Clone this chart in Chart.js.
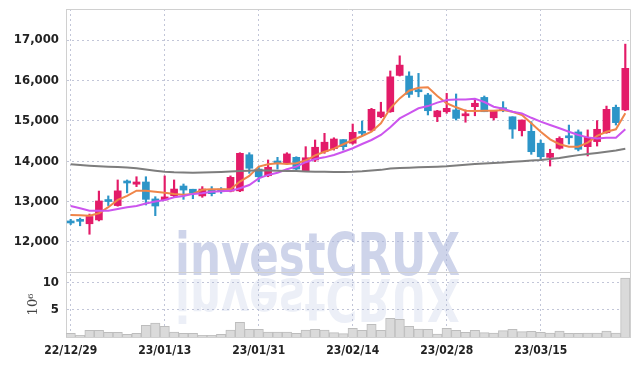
<!DOCTYPE html>
<html>
<head>
<meta charset="utf-8">
<script src="https://cdn.jsdelivr.net/npm/chart.js@4"></script>
<style>
  html, body { margin: 0; padding: 0; background: #fff; }
  #wrap { width: 639px; height: 366px; }
</style>
</head>
<body>
<div id="wrap"><canvas id="chart"></canvas></div>
<script>
// daily candles, 22/12/29 .. 23/03/28
const dates = [
  '22/12/29', '23/01/02', '23/01/03', '23/01/04', '23/01/05', '23/01/06', '23/01/09', '23/01/10', '23/01/11', '23/01/12',
  '23/01/13', '23/01/16', '23/01/17', '23/01/18', '23/01/19', '23/01/20', '23/01/25', '23/01/26', '23/01/27', '23/01/30',
  '23/01/31', '23/02/01', '23/02/02', '23/02/03', '23/02/06', '23/02/07', '23/02/08', '23/02/09', '23/02/10', '23/02/13',
  '23/02/14', '23/02/15', '23/02/16', '23/02/17', '23/02/20', '23/02/21', '23/02/22', '23/02/23', '23/02/24', '23/02/27',
  '23/02/28', '23/03/02', '23/03/03', '23/03/06', '23/03/07', '23/03/08', '23/03/09', '23/03/10', '23/03/13', '23/03/14',
  '23/03/15', '23/03/16', '23/03/17', '23/03/20', '23/03/21', '23/03/22', '23/03/23', '23/03/24', '23/03/27', '23/03/28'
];

const opens = [
  12520, 12540, 12450, 12545, 13040, 12900, 13490, 13430, 13485, 13065,
  13040, 13145, 13385, 13305, 13140, 13285, 13310, 13255, 13265, 14160,
  13805, 13640, 14005, 13950, 14095, 13765, 14030, 14235, 14310, 14535,
  14445, 14730, 14765, 15100, 15225, 16125, 16110, 15765, 15640, 15100,
  15225, 15270, 15125, 15350, 15580, 15075, 15325, 15100, 14755, 14740,
  14445, 14095, 14320, 14625, 14725, 14360, 14485, 14705, 15335, 15270
];
const highs = [
  12560, 12590, 12690, 13260, 13140, 13535, 13535, 13615, 13615, 13120,
  13635, 13535, 13435, 13305, 13370, 13370, 13345, 13635, 14210, 14210,
  13850, 14030, 14095, 14210, 14110, 14360, 14525, 14690, 14580, 14535,
  14920, 14995, 15310, 15460, 16235, 16610, 16215, 16175, 15680, 15260,
  15680, 15665, 15270, 15555, 15615, 15245, 15475, 15100, 15020, 14980,
  14525, 14295, 14605, 14895, 14775, 14775, 15005, 15365, 15390, 16900
];
const lows = [
  12430, 12400, 12190, 12520, 12900, 12885, 13215, 13370, 12915, 12650,
  13040, 13120, 13055, 13070, 13105, 13140, 13205, 13240, 13245, 13700,
  13490, 13615, 13805, 13925, 13785, 13740, 13990, 14195, 14275, 14275,
  14420, 14630, 14750, 15075, 15210, 16110, 15580, 15595, 15145, 14980,
  15185, 15020, 14965, 15125, 15225, 15020, 15225, 14565, 14625, 14170,
  14015, 13880, 14300, 14425, 14255, 14130, 14375, 14690, 14895, 15250
];
const closes = [
  12470, 12510, 12630, 13015, 13000, 13265, 13460, 13485, 13055, 12890,
  13115, 13310, 13285, 13205, 13310, 13195, 13255, 13600, 14195, 13825,
  13615, 13850, 13950, 14180, 13805, 14085, 14345, 14470, 14550, 14360,
  14715, 14690, 15285, 15220, 16090, 16380, 15655, 15720, 15250, 15245,
  15310, 15060, 15170, 15435, 15225, 15245, 15270, 14795, 15020, 14235,
  14110, 14195, 14565, 14580, 14295, 14590, 14790, 15285, 14955, 16300
];

// volume in millions of shares
const volumes = [
  0.68, 0.30, 1.24, 1.24, 0.87, 0.87, 0.49, 0.68, 2.16, 2.59,
  1.98, 0.93, 0.68, 0.68, 0.30, 0.30, 0.49, 1.30, 2.72, 1.42,
  1.42, 0.93, 0.93, 0.93, 0.68, 1.30, 1.42, 1.30, 0.80, 0.62,
  1.60, 1.24, 2.35, 1.24, 3.46, 3.27, 1.98, 1.48, 1.42, 0.56,
  1.60, 1.24, 0.87, 1.24, 0.80, 0.74, 1.17, 1.42, 0.99, 1.05,
  0.87, 0.74, 1.10, 0.68, 0.68, 0.74, 0.74, 1.10, 0.74, 10.9
];

// moving averages
const maShort = [
  12670, 12660, 12650, 12710, 12860, 13040, 13140, 13270, 13270, 13245,
  13220, 13190, 13170, 13190, 13290, 13305, 13305, 13305, 13495, 13635,
  13865, 13925, 13950, 13930, 13950, 14015, 14145, 14235, 14310, 14420,
  14525, 14625, 14730, 14940, 15310, 15555, 15745, 15820, 15830, 15615,
  15435, 15335, 15250, 15245, 15250, 15250, 15270, 15225, 15145, 14940,
  14730, 14540, 14420, 14360, 14360, 14460, 14625, 14730, 14790, 15185
];
const maMid = [
  12890, 12835, 12775, 12770, 12775, 12815, 12860, 12890, 12950, 13000,
  13040, 13105, 13140, 13190, 13205, 13240, 13255, 13265, 13330, 13410,
  13575, 13660, 13715, 13800, 13865, 13975, 14055, 14095, 14155, 14235,
  14320, 14425, 14525, 14650, 14840, 15060, 15185, 15310, 15365, 15450,
  15515, 15530, 15530, 15545, 15465, 15350, 15300, 15225, 15185, 15075,
  14980, 14895, 14815, 14730, 14650, 14590, 14565, 14580, 14580, 14790
];
const maLong = [
  13925, 13905, 13890, 13875, 13865, 13855, 13845, 13825, 13795, 13765,
  13740, 13725, 13720, 13715, 13720, 13725, 13735, 13745, 13755, 13765,
  13775, 13770, 13765, 13760, 13755, 13745, 13740, 13738, 13735, 13733,
  13738, 13750, 13768, 13785, 13820, 13830, 13840, 13850, 13857, 13865,
  13877, 13895, 13910, 13930, 13945, 13955, 13970, 13985, 14000, 14015,
  14030, 14055, 14080, 14115, 14150, 14180, 14205, 14235, 14265, 14310
];

const priceTicks = [12000, 13000, 14000, 15000, 16000, 17000];
const volTicks = [5, 10];

const upColor = '#e31b68';
const downColor = '#2d95c8';
const gridColor = '#c2c6d8';
const frameColor = '#d0d0d0';
const fontFamily = '"Liberation Sans Narrow", "DejaVu Sans Condensed", sans-serif';
const xFont = { family: fontFamily, size: 12, weight: 'bold' };
const yFont = { family: fontFamily, size: 13, weight: 'bold' };

const candleColors = opens.map((o, i) => closes[i] >= o ? upColor : downColor);

// frame lines + panel separator
const framePlugin = {
  id: 'frame',
  afterDraw(chart) {
    const { ctx, chartArea } = chart;
    const vol = chart.scales.vol;
    ctx.save();
    ctx.strokeStyle = frameColor;
    ctx.lineWidth = 1;
    ctx.beginPath();
    ctx.moveTo(chartArea.left, chartArea.top + 0.5);
    ctx.lineTo(chartArea.right + 0.5, chartArea.top + 0.5);
    ctx.lineTo(chartArea.right + 0.5, chartArea.bottom);
    ctx.moveTo(chartArea.left, Math.round(vol.top) + 0.5);
    ctx.lineTo(chartArea.right, Math.round(vol.top) + 0.5);
    ctx.stroke();
    ctx.restore();
  }
};

// faint "investCRUX" watermark with its reflection
const watermarkPlugin = {
  id: 'watermark',
  beforeDatasetsDraw(chart) {
    const { ctx } = chart;
    const text = 'investCRUX';
    ctx.save();
    ctx.font = 'bold 58px "DejaVu Sans", sans-serif';
    ctx.textBaseline = 'alphabetic';
    const sx = 285 / ctx.measureText(text).width;
    ctx.save();
    ctx.translate(175, 275);
    ctx.scale(sx, 1);
    ctx.fillStyle = 'rgba(165, 176, 216, 0.55)';
    ctx.fillText(text, 0, 0);
    ctx.restore();
    ctx.save();
    ctx.translate(175, 279);
    ctx.scale(sx, -1);
    ctx.fillStyle = 'rgba(170, 180, 218, 0.22)';
    ctx.fillText(text, 0, 0);
    ctx.restore();
    ctx.restore();
  }
};

const noPadY = (s) => { s.width = 66; s.paddingTop = 0; s.paddingBottom = 0; };

new Chart(document.getElementById('chart'), {
  data: {
    labels: dates,
    datasets: [
      {
        type: 'line', label: 'MA long', data: maLong, yAxisID: 'y',
        borderColor: '#7d7d7d', borderWidth: 2, pointRadius: 0, tension: 0, order: 0
      },
      {
        type: 'line', label: 'MA mid', data: maMid, yAxisID: 'y',
        borderColor: '#cc55ee', borderWidth: 2, pointRadius: 0, tension: 0, order: 0
      },
      {
        type: 'line', label: 'MA short', data: maShort, yAxisID: 'y',
        borderColor: '#ef8549', borderWidth: 2, pointRadius: 0, tension: 0, order: 0
      },
      {
        type: 'bar', label: 'body', yAxisID: 'y', grouped: false, order: 2,
        data: opens.map((o, i) => [o, closes[i]]),
        backgroundColor: candleColors, borderWidth: 0,
        barThickness: 7, minBarLength: 2
      },
      {
        type: 'bar', label: 'wick', yAxisID: 'y', grouped: false, order: 3,
        data: lows.map((l, i) => [l, highs[i]]),
        backgroundColor: candleColors, borderWidth: 0,
        barThickness: 1.5
      },
      {
        type: 'bar', label: 'volume', yAxisID: 'vol', grouped: false, order: 4,
        data: volumes,
        backgroundColor: '#dadada', borderColor: '#bdbdbd', borderWidth: 1,
        barPercentage: 1, categoryPercentage: 1
      }
    ]
  },
  options: {
    responsive: true,
    maintainAspectRatio: false,
    animation: false,
    layout: { padding: { top: 9, right: 9, left: 0, bottom: 0 } },
    plugins: {
      legend: { display: false },
      tooltip: { enabled: false }
    },
    scales: {
      x: {
        type: 'category',
        offset: true,
        grid: {
          offset: false,
          drawTicks: false,
          color: (c) => c.index % 10 === 0 ? gridColor : 'rgba(0,0,0,0)'
        },
        border: { color: frameColor, dash: [2, 3] },
        ticks: {
          autoSkip: false, maxRotation: 0, padding: 7, color: '#222', font: xFont,
          callback: function (v, i) { return i % 10 === 0 ? this.getLabelForValue(v) : ''; }
        },
        afterFit: (s) => { s.height = 29; s.paddingLeft = 0; s.paddingRight = 0; }
      },
      y: {
        type: 'linear', position: 'left', stack: 'panels', stackWeight: 263, weight: 2,
        min: 11255, max: 17770,
        grid: { color: gridColor, drawTicks: false },
        border: { color: frameColor, dash: [2, 3] },
        ticks: {
          autoSkip: false, padding: 7, color: '#222', font: yFont,
          callback: (v) => v.toLocaleString('en-US')
        },
        afterBuildTicks: (s) => { s.ticks = priceTicks.map(v => ({ value: v })); },
        afterFit: noPadY
      },
      vol: {
        type: 'linear', position: 'left', stack: 'panels', stackWeight: 65, weight: 1,
        min: 0, max: 12,
        grid: { color: gridColor, drawTicks: false },
        border: { color: frameColor, dash: [2, 3] },
        ticks: { autoSkip: false, padding: 7, color: '#222', font: yFont },
        afterBuildTicks: (s) => { s.ticks = volTicks.map(v => ({ value: v })); },
        title: {
          display: true, text: '10\u2076', color: '#444',
          font: { family: '"DejaVu Serif", serif', size: 13 },
          padding: { top: 26, bottom: 0 }
        },
        afterFit: noPadY
      }
    }
  },
  plugins: [watermarkPlugin, framePlugin]
});
</script>
</body>
</html>
